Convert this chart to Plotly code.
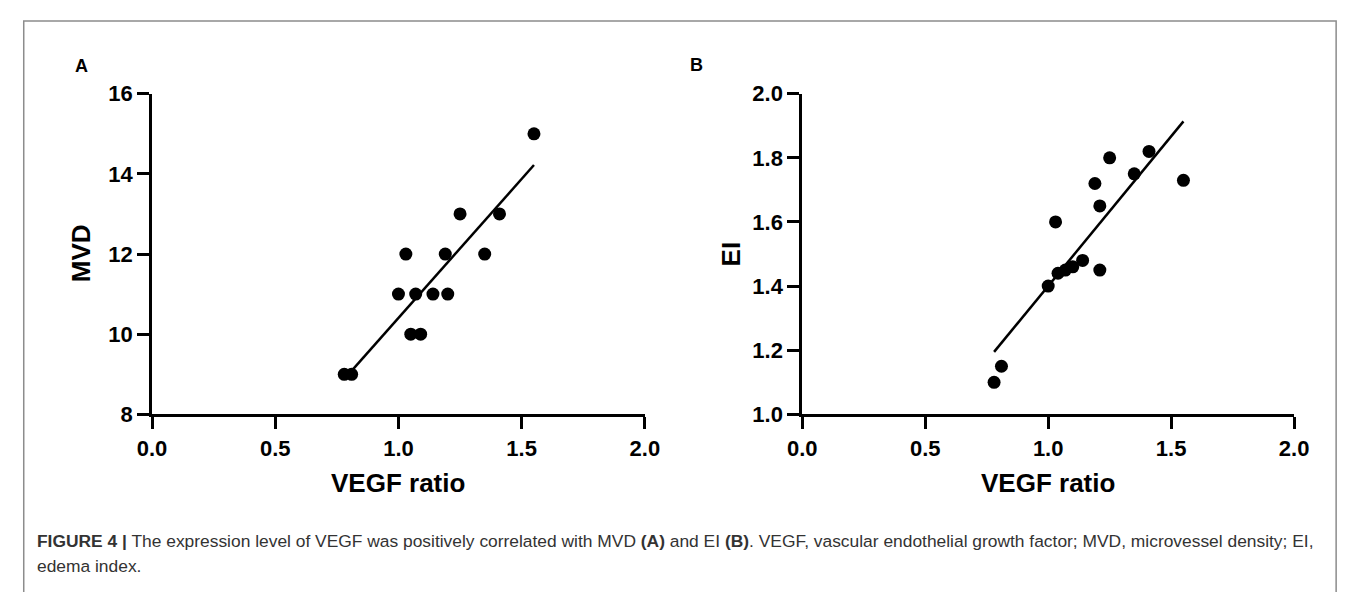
import numpy as np
import plotly.graph_objects as go

# Panel A: VEGF ratio vs MVD
vegf_a = [0.78, 0.81, 1.00, 1.03, 1.05, 1.09, 1.07, 1.14, 1.20, 1.19, 1.25, 1.35, 1.41, 1.55]
mvd = [9, 9, 11, 12, 10, 10, 11, 11, 11, 12, 13, 12, 13, 15]

# Panel B: VEGF ratio vs EI
vegf_b = [0.78, 0.81, 1.00, 1.03, 1.04, 1.07, 1.10, 1.14, 1.21, 1.19, 1.21, 1.25, 1.35, 1.41, 1.55]
ei = [1.10, 1.15, 1.40, 1.60, 1.44, 1.45, 1.46, 1.48, 1.45, 1.72, 1.65, 1.80, 1.75, 1.82, 1.73]

x_ticks = [0.0, 0.5, 1.0, 1.5, 2.0]
caption_1 = ("<b>FIGURE 4 |</b> The expression level of VEGF was positively correlated with MVD <b>(A)</b> "
             "and EI <b>(B)</b>. VEGF, vascular endothelial growth factor; MVD, microvessel density; EI,")
caption_2 = "edema index."

# page is shown with an 8px body margin, so the figure is sized to fit the window
OFF = 8
W, H = 1357 - OFF, 592 - OFF
FONT = "Arial, Liberation Sans, Helvetica, sans-serif"


def px_x(p):
    # page pixel -> paper fraction
    return (p - OFF) / W


def px_y(p):
    return 1 - (p - OFF) / H


def fit_line(x, y):
    slope, icpt = np.polyfit(x, y, 1)
    xs = np.array([min(x), max(x)])
    return xs, slope * xs + icpt


fig = go.Figure()

# --- Panel A ---
fig.add_trace(go.Scatter(x=vegf_a, y=mvd, mode="markers",
                         marker=dict(color="black", size=13), xaxis="x", yaxis="y"))
lx, ly = fit_line(vegf_a, mvd)
fig.add_trace(go.Scatter(x=lx, y=ly, mode="lines",
                         line=dict(color="black", width=2.5), xaxis="x", yaxis="y"))

# --- Panel B ---
fig.add_trace(go.Scatter(x=vegf_b, y=ei, mode="markers",
                         marker=dict(color="black", size=13), xaxis="x2", yaxis="y2"))
lx, ly = fit_line(vegf_b, ei)
fig.add_trace(go.Scatter(x=lx, y=ly, mode="lines",
                         line=dict(color="black", width=2.5), xaxis="x2", yaxis="y2"))

axis_style = dict(
    showline=True, linecolor="black", linewidth=3,
    ticks="outside", ticklen=12, tickwidth=3, tickcolor="black",
    showgrid=False, zeroline=False,
    tickfont=dict(family=FONT, size=22, color="black", weight="bold"),
)
title_font = dict(family=FONT, size=26, color="black", weight="bold")

ydom = [px_y(420), px_y(85)]

fig.update_layout(
    width=W, height=H,
    margin=dict(l=0, r=0, t=0, b=0),
    paper_bgcolor="white", plot_bgcolor="white",
    showlegend=False,
    xaxis=dict(domain=[px_x(140), px_x(644)], range=[0, 2], tickvals=x_ticks,
               tickformat=".1f", anchor="y", **axis_style),
    yaxis=dict(domain=ydom, range=[8, 16], dtick=2, anchor="x", **axis_style),
    xaxis2=dict(domain=[px_x(805), px_x(1308)], range=[0, 2], tickvals=x_ticks,
                tickformat=".1f", anchor="y2", **axis_style),
    yaxis2=dict(domain=ydom, range=[1.0, 2.0], dtick=0.2, tickformat=".1f", anchor="x2",
                **axis_style),
)

# axis titles
for txt, xp, yp, ang in [("VEGF ratio", 392, 492, 0), ("VEGF ratio", 1056, 492, 0),
                         ("MVD", 67, 252, -90), ("EI", 732, 252, -90)]:
    fig.add_annotation(x=px_x(xp), y=px_y(yp), xref="paper", yref="paper",
                       text=txt, showarrow=False, textangle=ang,
                       xanchor="center", yanchor="middle", font=title_font)

# panel letters
for letter, xp, yp in [("A", 59, 43), ("B", 697, 42)]:
    fig.add_annotation(x=px_x(xp), y=px_y(yp), xref="paper", yref="paper",
                       text=f"<b>{letter}</b>", showarrow=False,
                       font=dict(family=FONT, size=18, color="black"))

# caption
for txt, yp in [(caption_1, 552), (caption_2, 578)]:
    fig.add_annotation(x=px_x(20), y=px_y(yp), xref="paper", yref="paper",
                       xanchor="left", yanchor="middle", text=txt, showarrow=False,
                       font=dict(family=FONT, size=17.4, color="#333333"))

# outer frame
fig.add_shape(type="rect", xref="paper", yref="paper",
              x0=px_x(8.75), x1=px_x(1351), y0=-0.05, y1=px_y(9),
              line=dict(color="#8c8c8c", width=1.5))

fig.write_html("out.html")
